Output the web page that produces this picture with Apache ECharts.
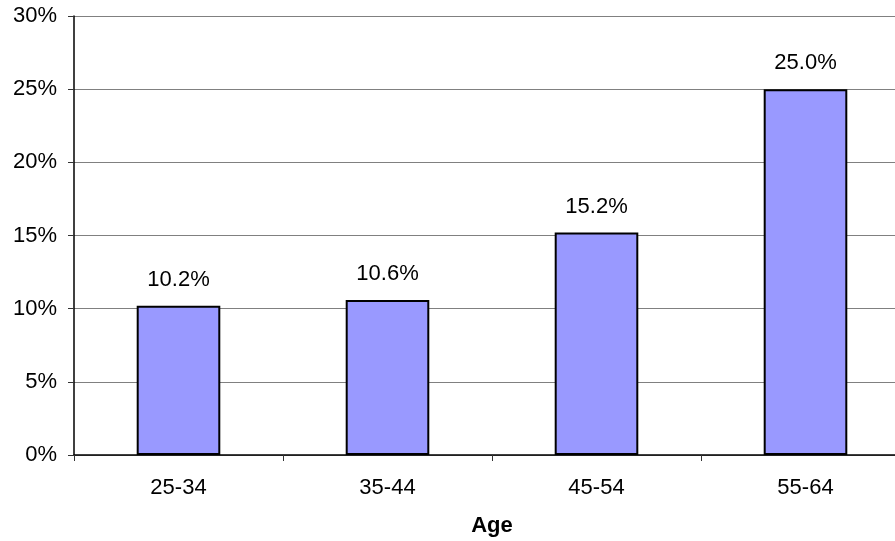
<!DOCTYPE html>
<html>
<head>
<meta charset="utf-8">
<script src="https://cdn.jsdelivr.net/npm/echarts@6/dist/echarts.min.js"></script>
<style>
  html, body { margin: 0; padding: 0; background: #fff; }
  #chart { width: 895px; height: 541px; }
</style>
</head>
<body>
<div id="chart"></div>
<script>
// age groups and share of respondents (%)
const categories = ["25-34", "35-44", "45-54", "55-64"];
const values = [10.2, 10.6, 15.2, 25.0];
const yTicks = [0, 5, 10, 15, 20, 25, 30];

const font = "Liberation Sans, Arial, sans-serif";
const myChart = echarts.init(document.getElementById("chart"));

// plot area runs past the right edge of the picture, like the original
const option = {
  animation: false,
  grid: { left: 74, top: 16, bottom: 86, width: 836, containLabel: false, outerBoundsMode: "none" },
  xAxis: {
    type: "category",
    data: categories,
    name: "Age",
    nameLocation: "middle",
    nameGap: 60,
    nameTextStyle: { fontFamily: font, fontSize: 22, fontWeight: "bold", color: "#000" },
    axisLine: { lineStyle: { color: "#000", width: 1.5 } },
    axisTick: { show: true, length: 6, lineStyle: { color: "#333" } },
    axisLabel: { fontFamily: font, fontSize: 22, color: "#000", margin: 22 },
  },
  yAxis: {
    type: "value",
    min: yTicks[0],
    max: yTicks[yTicks.length - 1],
    interval: 5,
    axisLine: { show: true, lineStyle: { color: "#000", width: 1.5 } },
    axisTick: { show: true, length: 6, lineStyle: { color: "#333" } },
    axisLabel: { fontFamily: font, fontSize: 22, color: "#000", margin: 17, formatter: "{value}%" },
    splitLine: { lineStyle: { color: "#808080", width: 1 } },
  },
  series: [
    {
      type: "bar",
      data: values,
      barWidth: "40%",
      itemStyle: { color: "#9999FF", borderColor: "#000", borderWidth: 2 },
      label: {
        show: true,
        position: "top",
        distance: 15,
        fontFamily: font,
        fontSize: 22,
        color: "#000",
        formatter: (p) => p.value.toFixed(1) + "%",
      },
    },
  ],
};
option && myChart.setOption(option);
</script>
</body>
</html>
